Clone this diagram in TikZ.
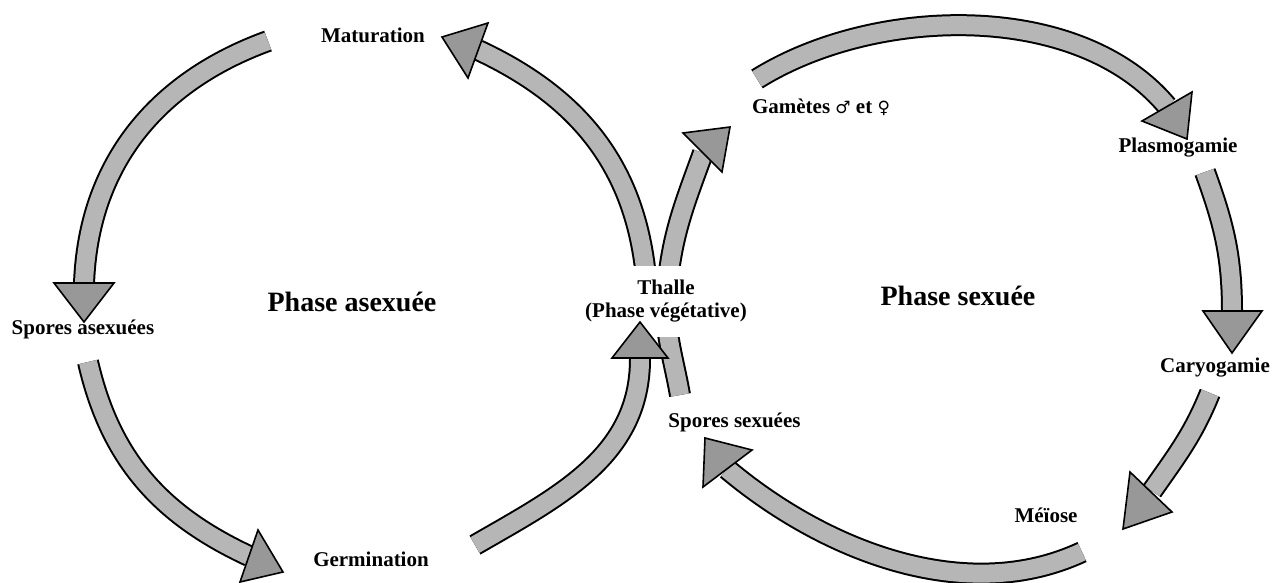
\documentclass[tikz,border=0pt]{standalone}
\usepackage{fontspec}
\setmainfont{Liberation Serif}
\newfontfamily\symfont{DejaVu Sans}
\definecolor{shaftgray}{RGB}{182,182,182}
\definecolor{headgray}{RGB}{152,152,152}
\tikzset{
  shaft/.style={draw=shaftgray, line width=18pt, preaction={draw=black, line width=22pt}},
  head/.style={fill=headgray, draw=black, line width=1.6pt, line join=miter},
  lbl/.style={font=\fontsize{21}{23}\selectfont\bfseries, inner sep=0pt, anchor=base},
  phase/.style={font=\fontsize{28}{30}\selectfont\bfseries, inner sep=0pt, anchor=base},
}
\newcommand\sexsym[1]{{\mdseries\symfont\fontsize{17}{19}\selectfont #1}}
\begin{document}
\begin{tikzpicture}[x=1pt,y=1pt]
\fill[white] (0,0) rectangle (1288,-583);
\useasboundingbox (0,0) rectangle (1288,-583);
% shafts
\draw[shaft] (268,-41) to[out=200,in=88] (84,-284);
\draw[shaft] (88,-362) to[out=-77,in=155] (249,-556);
\draw[shaft] (475,-545) to[out=30,in=-90] (640,-359);
\draw[shaft] (645,-268) to[out=97,in=-25] (478,-50);
\draw[shaft] (680,-395) to[out=100,in=-95] (667,-290) to[out=85,in=-110] (703,-153);
\draw[shaft] (757,-79) to[out=32,in=130,looseness=0.86] (1167,-106);
\draw[shaft] (1205,-172) to[out=-70,in=90] (1232,-312);
\draw[shaft] (1210,-393) to[out=-112,in=55] (1152,-491);
\draw[shaft] (1082,-552) to[out=-155,in=-40,looseness=0.9] (727,-469);
% labels
\node[lbl] (mat) at (373,-43) {Maturation};
\node[lbl] (spa) at (83,-334) {Spores asexuées};
\node[lbl] (ger) at (371,-566) {Germination};
\node[lbl, fill=white, align=center, inner xsep=3pt, inner ysep=14pt, anchor=center] (tha) at (666,-301.5) {Thalle\\(Phase végétative)};
\node[lbl] (gam) at (821,-114) {Gamètes \sexsym{♂} et \sexsym{♀}};
\node[lbl] (pla) at (1178,-153) {Plasmogamie};
\node[lbl] (car) at (1215,-372) {Caryogamie};
\node[lbl] (mei) at (1046,-522) {Méïose};
\node[lbl] (sps) at (734.5,-427) {Spores sexuées};
\node[phase] (pas) at (352,-311) {Phase asexuée};
\node[phase] (pse) at (958,-305) {Phase sexuée};
% arrow heads
\draw[head] (54,-283) -- (114,-283) -- (84,-322) -- cycle;
\draw[head] (258,-530) -- (283,-572) -- (240,-582) -- cycle;
\draw[head] (612,-358) -- (668,-358) -- (640,-322) -- cycle;
\draw[head] (442,-37) -- (488,-23) -- (468,-78) -- cycle;
\draw[head] (683,-133) -- (730,-127) -- (722,-172) -- cycle;
\draw[head] (1142,-121) -- (1192,-92) -- (1187,-139) -- cycle;
\draw[head] (1203,-311) -- (1262,-311) -- (1232,-353) -- cycle;
\draw[head] (1130,-472) -- (1172,-512) -- (1123,-529) -- cycle;
\draw[head] (705,-438) -- (752,-450) -- (703,-487) -- cycle;
\end{tikzpicture}
\end{document}
